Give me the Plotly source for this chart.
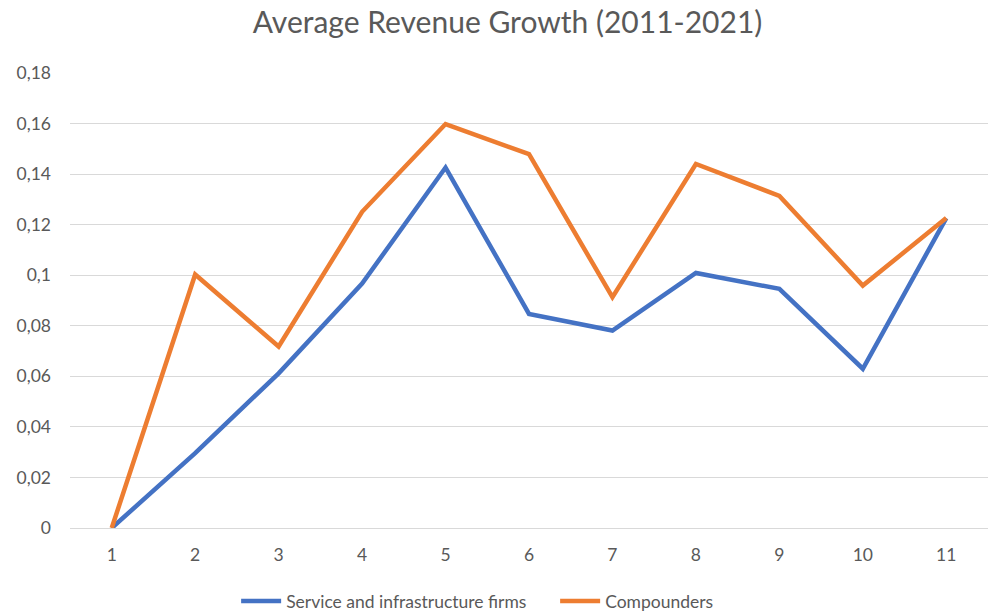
import plotly.graph_objects as go

categories = [1, 2, 3, 4, 5, 6, 7, 8, 9, 10, 11]
service_infra = [0.0, 0.0296, 0.0612, 0.0967, 0.1426, 0.0847, 0.0781, 0.1009, 0.0946, 0.0630, 0.1226]
compounders = [0.0, 0.1003, 0.0718, 0.1251, 0.1598, 0.1479, 0.0913, 0.1440, 0.1314, 0.0959, 0.1226]
y_tick_vals = [0, 0.02, 0.04, 0.06, 0.08, 0.10, 0.12, 0.14, 0.16, 0.18]
y_tick_text = ["0", "0,02", "0,04", "0,06", "0,08", "0,1", "0,12", "0,14", "0,16", "0,18"]

FONT = "Lato"
GREY = "#595959"

fig = go.Figure()
fig.add_trace(go.Scatter(x=categories, y=service_infra, mode="lines",
                         name="Service and infrastructure firms",
                         line=dict(color="#4472C4", width=4.5)))
fig.add_trace(go.Scatter(x=categories, y=compounders, mode="lines",
                         name="Compounders",
                         line=dict(color="#ED7D31", width=4.5)))

fig.update_layout(
    width=988, height=614,
    margin=dict(l=70, r=0, t=73, b=86, autoexpand=False),
    paper_bgcolor="white", plot_bgcolor="white",
    font=dict(family=FONT, color=GREY, size=16),
    title=dict(text="Average Revenue Growth (2011-2021)", x=0.5137, xanchor="center",
               y=0.963, yanchor="middle", font=dict(family=FONT, size=30, color=GREY)),
    showlegend=True,
    legend=dict(orientation="h", xref="container", yref="container",
                x=0.239, xanchor="left", y=0.021, yanchor="middle",
                entrywidth=264, itemwidth=40,
                font=dict(family=FONT, size=17.5, color=GREY)),
    xaxis=dict(range=[0.5, 11.5], tickvals=categories, ticktext=[str(c) for c in categories],
               showgrid=False, zeroline=False, showline=False, ticks="",
               tickfont=dict(family=FONT, size=17.5, color=GREY), ticklabelstandoff=14),
    yaxis=dict(range=[0, 0.18], tickvals=y_tick_vals, ticktext=y_tick_text,
               showgrid=True, gridcolor="#D9D9D9", gridwidth=1.3,
               zeroline=True, zerolinecolor="#D9D9D9", zerolinewidth=1.3,
               showline=False, ticks="", ticklabelstandoff=18,
               tickfont=dict(family=FONT, size=17.5, color=GREY)),
)

fig.write_html("out.html")
